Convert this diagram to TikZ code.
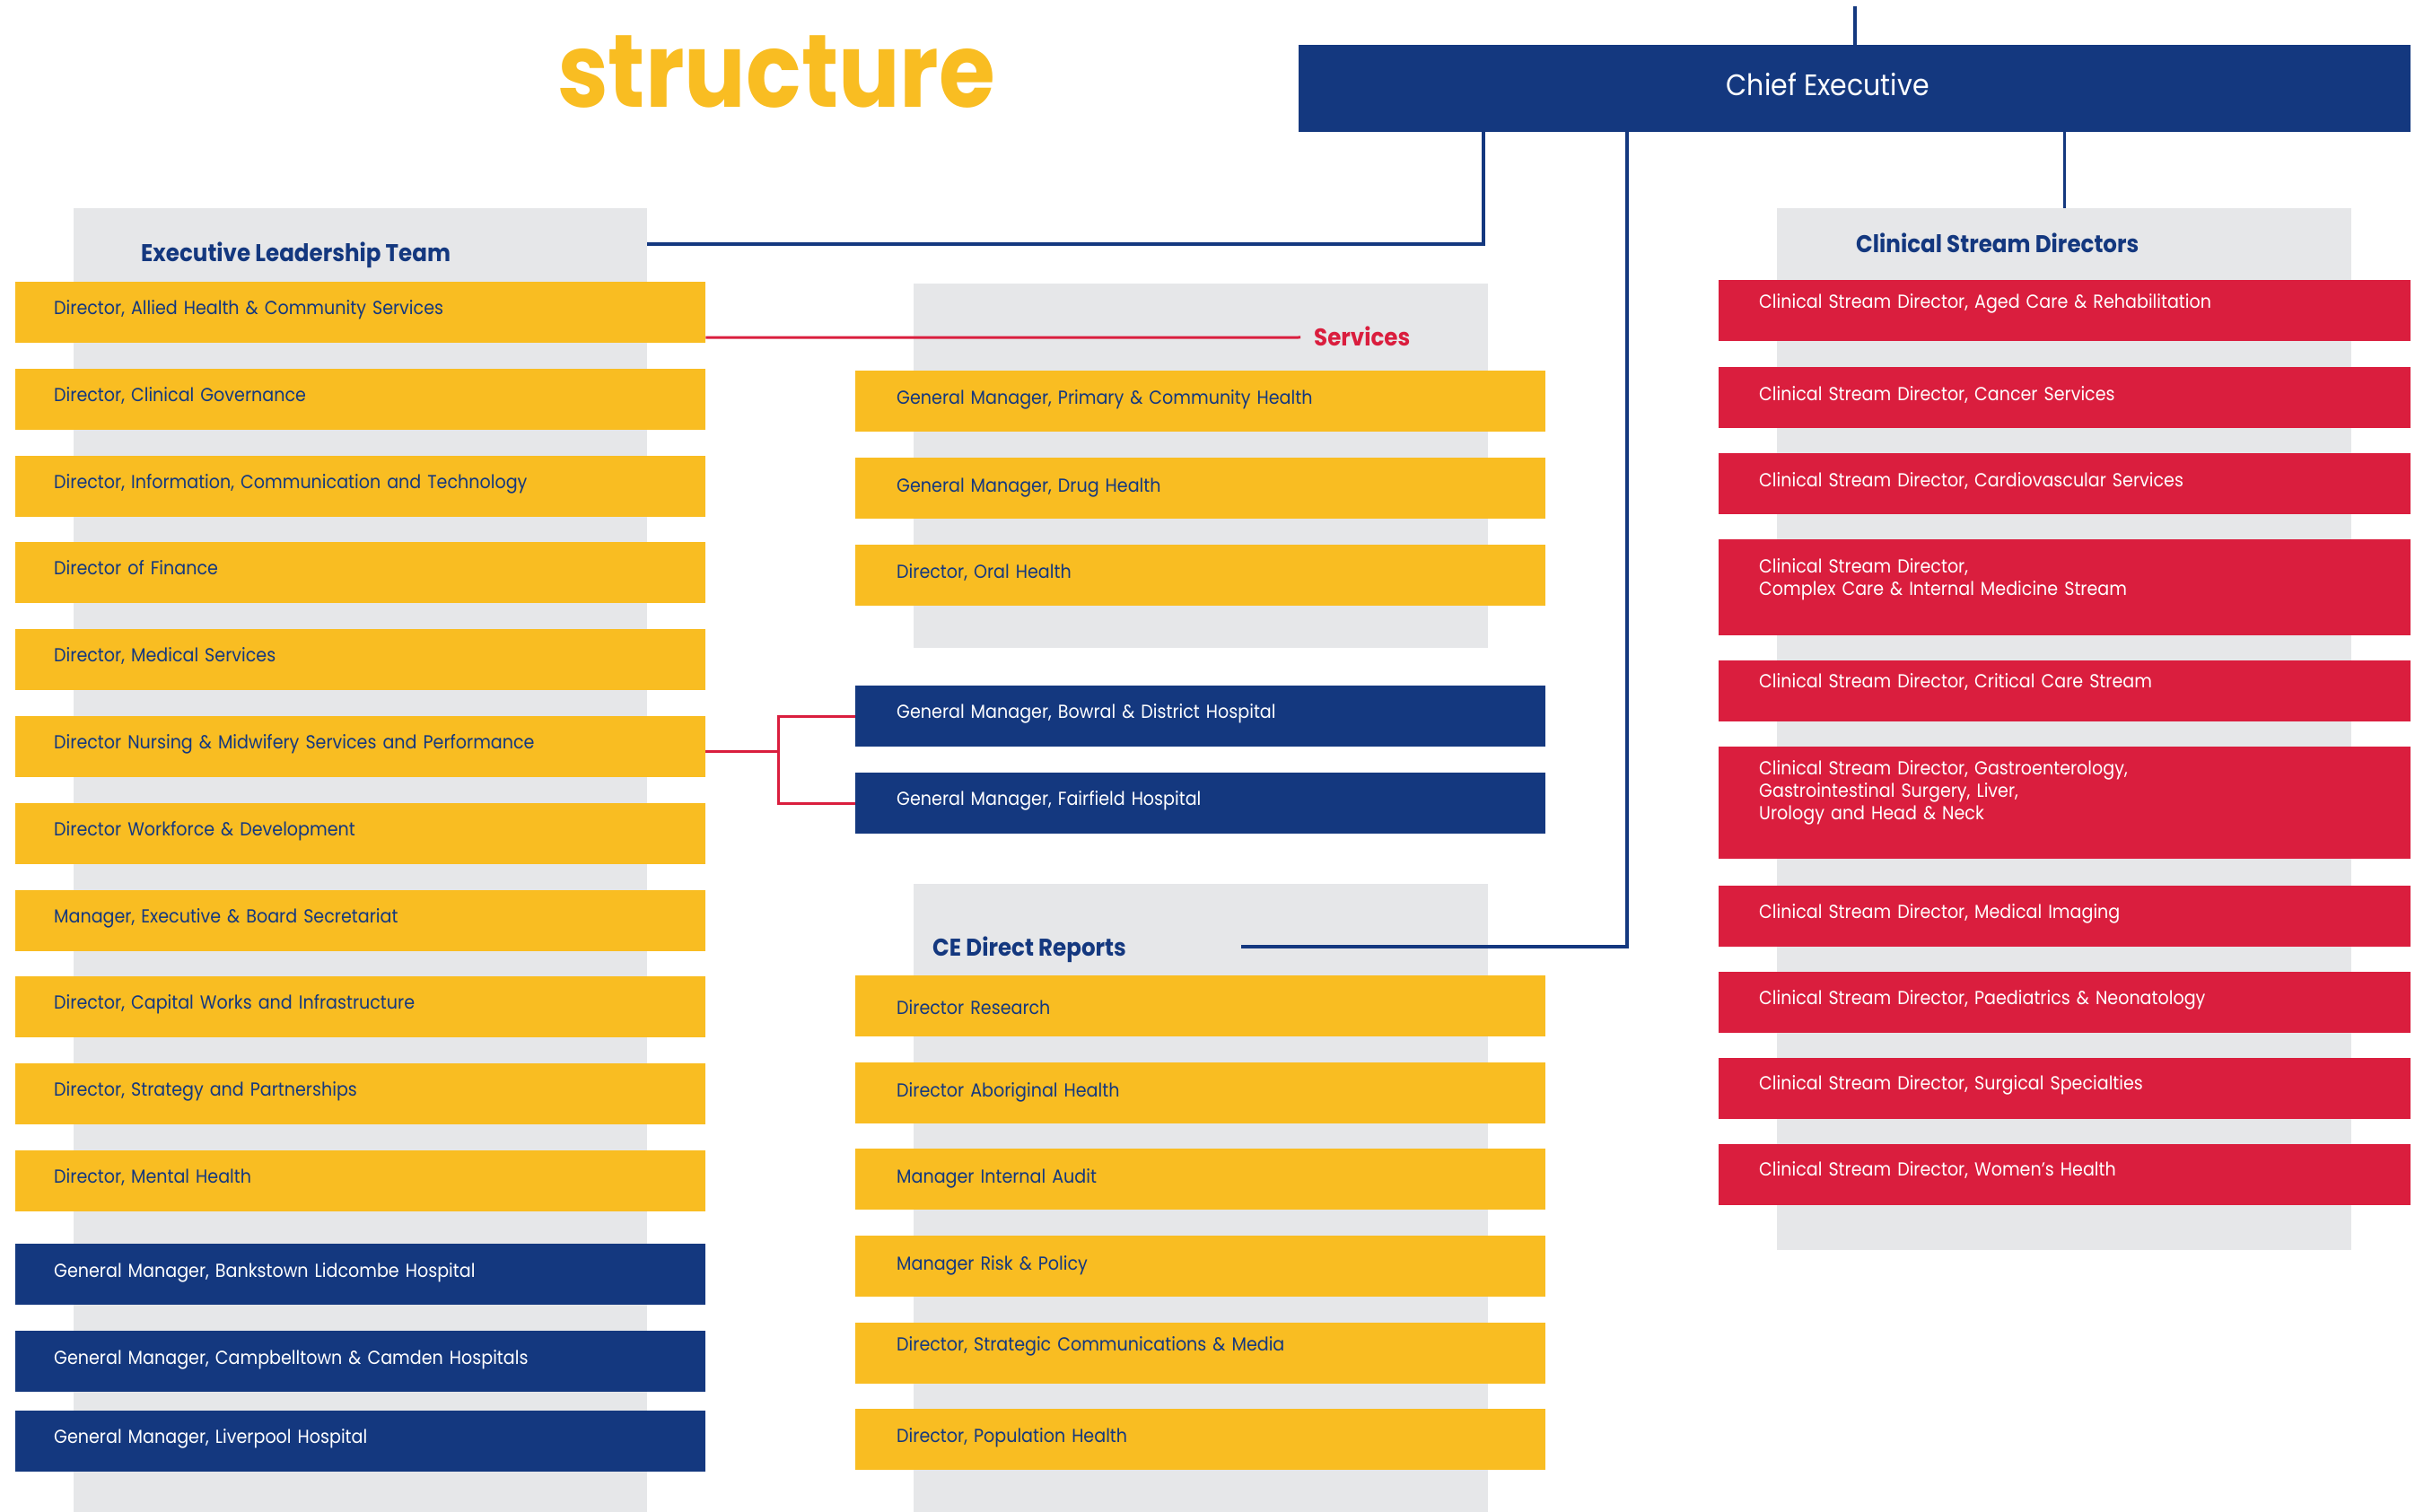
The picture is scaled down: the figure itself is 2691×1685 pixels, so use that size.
\documentclass[tikz,border=0pt]{standalone}
\usepackage{fontspec}
\setmainfont{Poppins}[FakeStretch=0.91]
\newfontfamily\titlefont{Poppins}[FakeStretch=0.885]
\definecolor{cyellow}{HTML}{F9BD22}
\definecolor{cnavy}{HTML}{14387F}
\definecolor{cred}{HTML}{DA1E3E}
\definecolor{cgray}{HTML}{E6E7E9}
\tikzset{
  panel/.style={fill=cgray, draw=none, anchor=north west, inner sep=0},
  orgbox/.style={anchor=north west, inner ysep=0, align=left, font=\fontsize{21}{25}\selectfont},
  ybox/.style={orgbox, fill=cyellow, text=cnavy},
  nbox/.style={orgbox, fill=cnavy, text=white},
  rbox/.style={orgbox, fill=cred, text=white},
  eltw/.style={inner xsep=43, text width=683},
  svcw/.style={inner xsep=46, text width=677},
  csdw/.style={inner xsep=45, text width=681},
  bl/.code={\pgfmathsetmacro\tmpd{68-#1}\edef\tmpx{\noexpand\tikzset{text height=#1pt, text depth=\tmpd pt}}\tmpx},
  head/.style={anchor=base west, inner sep=0, font=\bfseries\fontsize{27}{30}\selectfont},
  blueline/.style={draw=cnavy, line width=3.4pt},
  redline/.style={draw=cred, line width=3pt},
}
\begin{document}
\begin{tikzpicture}[x=1pt, y=-1pt]
\useasboundingbox (0,0) rectangle (2691,1685);
\fill[white] (0,0) rectangle (2691,1685);

% grey panels
\node[panel, minimum width=639, minimum height=1453] (elt) at (82,232) {};
\node[panel, minimum width=640, minimum height=406] (svc) at (1018,316) {};
\node[panel, minimum width=640, minimum height=700] (ced) at (1018,985) {};
\node[panel, minimum width=640, minimum height=1161] (csd) at (1980,232) {};

% title and headings
\node[anchor=base west, inner sep=0, font=\titlefont\bfseries\fontsize{115}{120}\selectfont, text=cyellow] (title) at (621,120) {structure};
\node[head, text=cnavy] (hELT) at (157,292) {Executive Leadership Team};
\node[head, text=cred] (hSVC) at (1464,386) {Services};
\node[head, text=cnavy] (hCED) at (1039,1065) {CE Direct Reports};
\node[head, text=cnavy] (hCSD) at (2068,282) {Clinical Stream Directors};

% chief executive
\node[anchor=north west, inner xsep=0, inner ysep=0, fill=cnavy, text=white, minimum width=1239, text height=56pt, text depth=41pt, font=\fontsize{33}{36}\selectfont] (ce) at (1447,50) {\hspace*{-60pt}Chief Executive};

% free ends of connectors
\coordinate (cetop) at (2067,7);
\coordinate (svcend) at (1449,376);
\coordinate (cedend) at (1383,1055);
\coordinate (nj) at (867,837);

% Executive Leadership Team
\node[ybox, eltw, bl=36] (e1) at (17,314) {Director, Allied Health \& Community Services};
\node[ybox, eltw, bl=36] (e2) at (17,411) {Director, Clinical Governance};
\node[ybox, eltw, bl=36] (e3) at (17,508) {Director, Information, Communication and Technology};
\node[ybox, eltw, bl=36] (e4) at (17,604) {Director of Finance};
\node[ybox, eltw, bl=36] (e5) at (17,701) {Director, Medical Services};
\node[ybox, eltw, bl=36] (e6) at (17,798) {Director Nursing \& Midwifery Services and Performance};
\node[ybox, eltw, bl=36] (e7) at (17,895) {Director Workforce \& Development};
\node[ybox, eltw, bl=36] (e8) at (17,992) {Manager, Executive \& Board Secretariat};
\node[ybox, eltw, bl=36] (e9) at (17,1088) {Director, Capital Works and Infrastructure};
\node[ybox, eltw, bl=36] (e10) at (17,1185) {Director, Strategy and Partnerships};
\node[ybox, eltw, bl=36] (e11) at (17,1282) {Director, Mental Health};
\node[nbox, eltw, bl=37] (e12) at (17,1386) {General Manager, Bankstown Lidcombe Hospital};
\node[nbox, eltw, bl=37] (e13) at (17,1483) {General Manager, Campbelltown \& Camden Hospitals};
\node[nbox, eltw, bl=36] (e14) at (17,1572) {General Manager, Liverpool Hospital};

% Services
\node[ybox, svcw, bl=37] (s1) at (953,413) {General Manager, Primary \& Community Health};
\node[ybox, svcw, bl=38] (s2) at (953,510) {General Manager, Drug Health};
\node[ybox, svcw, bl=37] (s3) at (953,607) {Director, Oral Health};
\node[nbox, svcw, bl=36] (h1) at (953,764) {General Manager, Bowral \& District Hospital};
\node[nbox, svcw, bl=36] (h2) at (953,861) {General Manager, Fairfield Hospital};

% CE Direct Reports
\node[ybox, svcw, bl=43] (c1) at (953,1087) {Director Research};
\node[ybox, svcw, bl=38] (c2) at (953,1184) {Director Aboriginal Health};
\node[ybox, svcw, bl=38] (c3) at (953,1280) {Manager Internal Audit};
\node[ybox, svcw, bl=38] (c4) at (953,1377) {Manager Risk \& Policy};
\node[ybox, svcw, bl=31] (c5) at (953,1474) {Director, Strategic Communications \& Media};
\node[ybox, svcw, bl=37] (c6) at (953,1570) {Director, Population Health};

% Clinical Stream Directors
\node[rbox, csdw, bl=31] (r1) at (1915,312) {Clinical Stream Director, Aged Care \& Rehabilitation};
\node[rbox, csdw, bl=37] (r2) at (1915,409) {Clinical Stream Director, Cancer Services};
\node[rbox, csdw, bl=37] (r3) at (1915,505) {Clinical Stream Director, Cardiovascular Services};
\node[rbox, csdw, text height=37pt, text depth=70pt] (r4) at (1915,601) {Clinical Stream Director,\\Complex Care \& Internal Medicine Stream};
\node[rbox, csdw, bl=30] (r5) at (1915,736) {Clinical Stream Director, Critical Care Stream};
\node[rbox, csdw, text height=31pt, text depth=94pt] (r6) at (1915,832) {Clinical Stream Director, Gastroenterology,\\Gastrointestinal Surgery, Liver,\\Urology and Head \& Neck};
\node[rbox, csdw, bl=36] (r7) at (1915,987) {Clinical Stream Director, Medical Imaging};
\node[rbox, csdw, bl=36] (r8) at (1915,1083) {Clinical Stream Director, Paediatrics \& Neonatology};
\node[rbox, csdw, bl=35] (r9) at (1915,1179) {Clinical Stream Director, Surgical Specialties};
\node[rbox, csdw, bl=35] (r10) at (1915,1275) {Clinical Stream Director, Women’s Health};

% connectors
\draw[blueline] (cetop) -- (cetop |- ce.north);
\draw[blueline] ([xshift=206pt]ce.south west) |- ([yshift=-40pt]elt.north east);
\draw[blueline] ([xshift=366pt]ce.south west) |- (cedend);
\draw[blueline] (ce.south -| csd.north) -- (csd.north);
\draw[redline] ([yshift=-28pt]e1.east) -- (svcend);
\draw[redline] (e6.east |- nj) -- (nj);
\draw[redline] (h1.west) -| (nj) |- (h2.west);
\end{tikzpicture}
\end{document}
